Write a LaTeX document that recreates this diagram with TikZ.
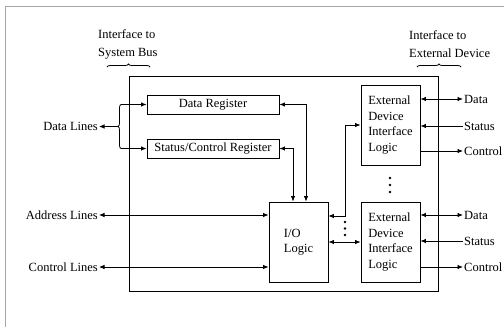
\documentclass[tikz,border=0pt]{standalone}
\usepackage{fontspec}
\setmainfont{Liberation Serif}
\usetikzlibrary{arrows.meta,decorations.pathreplacing,calc}
\begin{document}
\begin{tikzpicture}[x=1pt,y=-1pt,
  box/.style={draw,line width=0.9pt,inner sep=0pt,font=\fontsize{12.5}{15.5}\selectfont},
  lbl/.style={inner sep=1pt,font=\fontsize{12.5}{15}\selectfont},
  toplbl/.style={inner sep=0pt,align=left,font=\fontsize{12.5}{18}\selectfont},
  tip/.tip={Latex[length=5.5pt,width=4.5pt]},
  dbl/.style={line width=0.8pt,tip-tip},
  sarr/.style={line width=0.8pt,-tip},
  bracedeco/.style={line width=0.8pt,decorate,decoration={brace,amplitude=3pt}}]
\useasboundingbox (0,0) rectangle (504,327);
\draw[gray!70,line width=1pt] (5,327) -- (5,6) -- (504,6);

% boxes
\node[box,minimum width=309pt,minimum height=215pt] (main) at (283.5,183.5) {};
\node[box,minimum width=132pt,minimum height=19pt] (dr) at (213,104.5) {Data Register};
\node[box,minimum width=132pt,minimum height=19pt] (scr) at (213,148.5) {Status/Control Register};
\node[box,minimum width=59pt,minimum height=80pt,align=left] (ext1) at (390.5,125) {External\\Device\\Interface\\Logic};
\node[box,minimum width=59pt,minimum height=80pt,align=left] (ext2) at (390.5,242) {External\\Device\\Interface\\Logic};
\node[box,minimum width=59pt,minimum height=80pt,align=left] (io) at (298.5,242) {I/O\\Logic};

% top labels
\node[toplbl,anchor=west] (tl) at (98,44) {Interface to\\System Bus};
\node[toplbl,anchor=west] (tr) at (409,44) {Interface to\\External Device};
\coordinate (tlb1) at (107,67); \coordinate (tlb2) at (150,67);
\coordinate (trb1) at (417,67); \coordinate (trb2) at (461,67);
\draw[bracedeco] (tlb1) -- (tlb2);
\draw[bracedeco] (trb1) -- (trb2);

% left labels
\node[lbl,anchor=east] (dl) at (99,126.5) {Data Lines};
\node[lbl,anchor=east] (al) at (99,215) {Address Lines};
\node[lbl,anchor=east] (cl) at (99,267) {Control Lines};

% right labels
\node[lbl,anchor=west] (d1) at (463,99) {Data};
\node[lbl,anchor=west] (s1) at (463,126) {Status};
\node[lbl,anchor=west] (c1) at (463,151) {Control};
\node[lbl,anchor=west] (d2) at (463,215) {Data};
\node[lbl,anchor=west] (s2) at (463,241) {Status};
\node[lbl,anchor=west] (c2) at (463,267) {Control};

% data lines brace
\coordinate (bt) at (121,104.5);
\coordinate (bb) at (121,148.5);
\coordinate (btip) at (118,126.5);
\draw[bracedeco] (bb) -- (bt);
\draw[sarr] (bt) -- (dr.west);
\draw[sarr] (bb) -- (scr.west);
\draw[sarr] (btip) -- (dl.east);

% address / control lines
\draw[dbl] (al.east) -- (al.east -| io.west);
\draw[dbl] (cl.east) -- (cl.east -| io.west);

% registers to I/O logic
\draw[dbl] (dr.east) -| ([xshift=7.5pt]io.north);
\draw[dbl] (scr.east) -| ([xshift=-5.5pt]io.north);

% I/O logic to external device logic
\coordinate (j) at (345,125);
\draw[dbl] ([yshift=26pt]io.east) -| (j) -- (ext1.west);
\draw[dbl] (io.east) -- (ext2.west);

% right side lines
\draw[dbl] (d1.west -| ext1.east) -- (d1.west);
\draw[sarr] (s1.west) -- (s1.west -| ext1.east);
\draw[sarr] (c1.west -| ext1.east) -- (c1.west);
\draw[dbl] (d2.west -| ext2.east) -- (d2.west);
\draw[sarr] (s2.west) -- (s2.west -| ext2.east);
\draw[sarr] (c2.west -| ext2.east) -- (c2.west);

% ellipsis dots
\foreach \y in {222,228.5,235} \fill (345,\y) circle (1.3);
\foreach \y in {178,185,192} \fill (390,\y) circle (1.3);
\end{tikzpicture}
\end{document}
